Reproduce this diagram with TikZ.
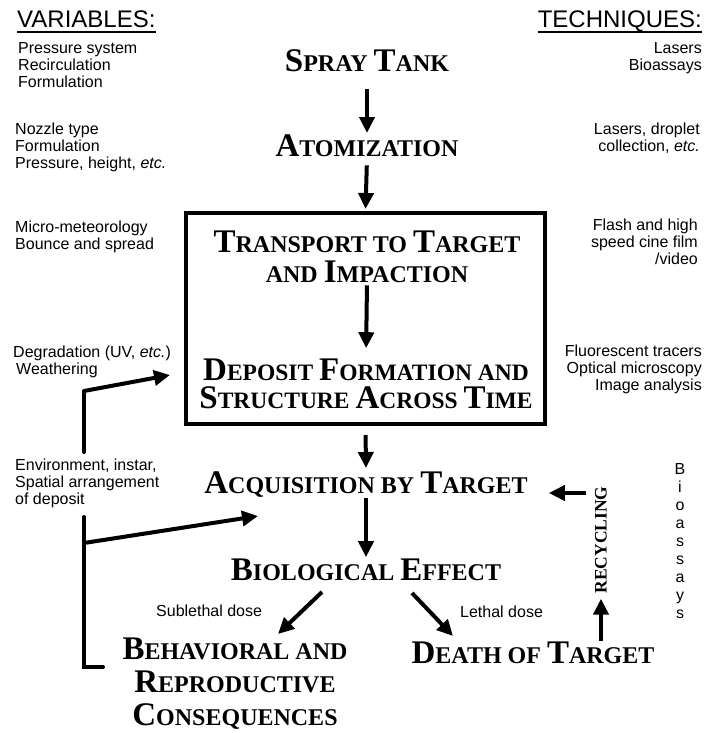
\documentclass[tikz,border=0pt]{standalone}
\usepackage{fontspec}
\setmainfont{Liberation Serif}
\newfontfamily\labfont{Liberation Sans}
\usetikzlibrary{arrows.meta, positioning}

% large initial letter of the small-cap titles
\newcommand\Cp[1]{{\fontsize{33}{29}\selectfont #1}}

\begin{document}
\begin{tikzpicture}[x=1pt, y=-1pt,
    title/.style={font=\bfseries\fontsize{24}{29}\selectfont, inner sep=0pt, anchor=base, align=center},
    note/.style={font=\labfont\fontsize{16}{17}\selectfont, inner sep=0pt, anchor=base west, align=left},
    noter/.style={note, anchor=base east, align=right},
    head/.style={font=\labfont\fontsize{24}{28}\selectfont, inner sep=0pt},
    uline/.style={line width=1.8pt},
    flow/.style={-{Triangle[length=16pt,width=15pt]}, line width=4pt},
    bracket/.style={line width=4pt, line cap=round},
    frame/.style={draw, line width=4pt, minimum width=359pt, minimum height=211pt, inner sep=0pt},
]
  \useasboundingbox (0,0) rectangle (704,733);

  % column headers
  \node[head, anchor=base west] (var) at (17,28) {VARIABLES:};
  \node[head, anchor=base east] (tech) at (702,28) {TECHNIQUES:};
  \draw[uline] ([yshift=-4pt]var.base west) -- ([yshift=-4pt]var.base east);
  \draw[uline] ([yshift=-4pt]tech.base west) -- ([yshift=-4pt]tech.base east);

  % main chain (base of a multi-line node = its last line)
  \node[title] (spray) at (367,72) {\Cp{S}PRAY \Cp{T}ANK};
  \node[title] (atom) at (367,157) {\Cp{A}TOMIZATION};
  \node[frame] (box) at (365.5,318.5) {};
  \node[title, font=\bfseries\fontsize{24}{30}\selectfont] (trans) at (367,282) {\Cp{T}RANSPORT TO \Cp{T}ARGET\\AND \Cp{I}MPACTION};
  \node[title, font=\bfseries\fontsize{23.5}{28}\selectfont] (depo) at (366,408) {\Cp{D}EPOSIT \Cp{F}ORMATION AND\\\Cp{S}TRUCTURE \Cp{A}CROSS \Cp{T}IME};
  \node[title] (acq) at (366,493) {\Cp{A}CQUISITION BY \Cp{T}ARGET};
  \node[title] (bio) at (366,580) {\Cp{B}IOLOGICAL \Cp{E}FFECT};
  \node[title, font=\bfseries\fontsize{24}{33}\selectfont] (behav) at (235,725) {\Cp{B}EHAVIORAL AND\\\Cp{R}EPRODUCTIVE\\\Cp{C}ONSEQUENCES};
  \node[title] (death) at (533,663) {\Cp{D}EATH OF \Cp{T}ARGET};
  \node[font=\bfseries\fontsize{17.5}{17.5}\selectfont, rotate=90, inner sep=0pt] (recyc) at (601,540) {RECYCLING};

  \draw[flow, shorten <=16pt, shorten >=2pt] (spray.south) -- (atom.north);
  \draw[flow, shorten <=8pt, shorten >=2pt] (atom.south) -- (box.north);
  \draw[flow, shorten <=3pt, shorten >=10pt] (trans.south) -- (depo.north);
  \draw[flow, shorten <=9pt, shorten >=3pt] (box.south) -- (acq.north);
  \draw[flow, shorten <=1pt, shorten >=1pt] (acq.south) -- (bio.north);

  \coordinate (sl1) at (322,592);
  \coordinate (sl2) at (278,634);
  \coordinate (le1) at (412,593);
  \coordinate (le2) at (453,636);
  \draw[flow] (sl1) -- (sl2);
  \draw[flow] (le1) -- (le2);
  \node[note] (subl) at (156,616) {Sublethal dose};
  \node[note] (leth) at (460,617) {Lethal dose};

  % recycling loop
  \coordinate (rc) at (586,493);
  \draw[flow, shorten >=21pt] (rc) -- (acq.base east);
  \draw[flow, shorten >=5pt] (death.north -| recyc.west) -- (recyc.west);

  % left brackets
  \coordinate (e1) at (84,452);
  \coordinate (e2) at (84,391);
  \coordinate (e3) at (170,375);
  \coordinate (f1) at (84,517);
  \coordinate (f2) at (84,667);
  \coordinate (f3) at (103,667);
  \coordinate (fb) at (84,543);
  \coordinate (f4) at (258,516);
  \draw[bracket] (e1) -- (e2);
  \draw[flow] (e2) -- (e3);
  \draw[bracket] (f1) -- (f2) -- (f3);
  \draw[flow] (fb) -- (f4);

  % variables
  \node[note] (v1) at (18,88) {Pressure system\\Recirculation\\Formulation};
  \node[note] (v2) at (15,168) {Nozzle type\\Formulation\\Pressure, height, \textit{etc.}};
  \node[note] (v3) at (15,249) {Micro-meteorology\\Bounce and spread};
  \node[note] (v4) at (13,374) {Degradation (UV, \textit{etc.})\\\hspace{3pt}Weathering};
  \node[note] (v5) at (15,504) {Environment, instar,\\Spatial arrangement\\of deposit};

  % techniques
  \node[noter] (t1) at (702,71) {Lasers\\Bioassays};
  \node[noter] (t2) at (700,151) {Lasers, droplet\\collection, \textit{etc.}};
  \node[noter] (t3) at (698,264) {Flash and high\\speed cine film\\/video};
  \node[noter] (t4) at (702,390) {Fluorescent tracers\\Optical microscopy\\Image analysis};
  \node[note, anchor=base, align=center, font=\labfont\fontsize{16}{17.9}\selectfont] (bioas) at (680,618) {B\\i\\o\\a\\s\\s\\a\\y\\s};
\end{tikzpicture}
\end{document}
